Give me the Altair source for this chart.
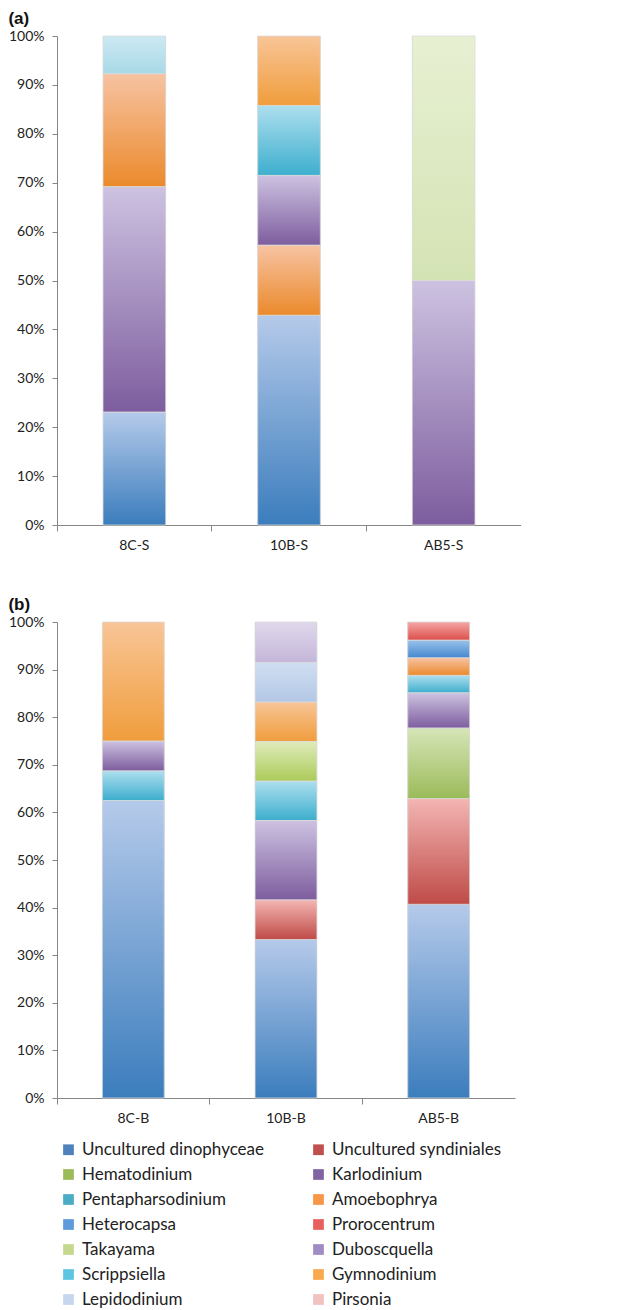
import altair as alt
import pandas as pd

# ---------------- data ----------------
SPECIES = ["Uncultured dinophyceae", "Uncultured syndiniales", "Hematodinium", "Karlodinium",
           "Pentapharsodinium", "Amoebophrya", "Heterocapsa", "Prorocentrum",
           "Takayama", "Duboscquella", "Scrippsiella", "Gymnodinium",
           "Lepidodinium", "Pirsonia"]

a_samples = ["8C-S", "10B-S", "AB5-S"]
a_sample = ["8C-S"] * 4 + ["10B-S"] * 5 + ["AB5-S"] * 2
a_species = ["Uncultured dinophyceae", "Karlodinium", "Amoebophrya", "Scrippsiella",
             "Uncultured dinophyceae", "Amoebophrya", "Karlodinium", "Pentapharsodinium", "Gymnodinium",
             "Karlodinium", "Takayama"]
a_value = [23.1, 46.1, 23.1, 7.7,
           42.9, 14.3, 14.3, 14.3, 14.2,
           50.0, 50.0]

b_samples = ["8C-B", "10B-B", "AB5-B"]
b_sample = ["8C-B"] * 4 + ["10B-B"] * 8 + ["AB5-B"] * 8
b_species = ["Uncultured dinophyceae", "Pentapharsodinium", "Karlodinium", "Gymnodinium",
             "Uncultured dinophyceae", "Uncultured syndiniales", "Karlodinium", "Pentapharsodinium",
             "Takayama", "Gymnodinium", "Lepidodinium", "Duboscquella",
             "Uncultured dinophyceae", "Uncultured syndiniales", "Hematodinium", "Karlodinium",
             "Pentapharsodinium", "Amoebophrya", "Heterocapsa", "Prorocentrum"]
b_value = [62.5, 6.25, 6.25, 25.0,
           33.3, 8.3, 16.7, 8.3, 8.3, 8.3, 8.3, 8.5,
           40.7, 22.2, 14.8, 7.4, 3.7, 3.7, 3.7, 3.8]

y_ticks = [0, 10, 20, 30, 40, 50, 60, 70, 80, 90, 100]

# ---------------- styles ----------------
LEGEND_COLORS = ["#4F81BD", "#C0504D", "#9BBB59", "#8064A2", "#4BACC6", "#F79646",
                 "#5E9BDB", "#E8605D", "#C4D98F", "#A18BC4", "#5CC5DF", "#F8A84D",
                 "#C6D6EE", "#F2C2C1"]

GRAD_B = {
    "Uncultured dinophyceae": ("#B5CAEA", "#3B7DBD"),
    "Uncultured syndiniales": ("#F3B5B3", "#BF4B47"),
    "Hematodinium": ("#D6E5B8", "#9BBB59"),
    "Karlodinium": ("#CDC2E1", "#7D5D9E"),
    "Pentapharsodinium": ("#ADDFEE", "#3DAECE"),
    "Amoebophrya": ("#F7C3A2", "#EB8A2C"),
    "Heterocapsa": ("#98C3EA", "#4787CF"),
    "Prorocentrum": ("#F4A6A4", "#DE4F4B"),
    "Takayama": ("#E0EBBB", "#ABCB5A"),
    "Duboscquella": ("#E0D8EC", "#C4B6D9"),
    "Scrippsiella": ("#CDE9F3", "#A8D9E7"),
    "Gymnodinium": ("#F8C597", "#F09D3C"),
    "Lepidodinium": ("#D0DEF1", "#B3C8E6"),
    "Pirsonia": ("#F6D0CF", "#EDB5B4"),
}
GRAD_A = dict(GRAD_B)
GRAD_A["Takayama"] = ("#E7F0D2", "#D4E3B4")

FONT = "Lato"
AXIS_COLOR = "#868686"


def gradient(top, bottom):
    return alt.Gradient(gradient="linear", x1=0, x2=0, y1=0, y2=1,
                        stops=[alt.GradientStop(color=top, offset=0),
                               alt.GradientStop(color=bottom, offset=1)])


def panel(samples, sample, species, value, grads, title, w, h):
    df = pd.DataFrame({"sample": sample, "species": species, "v": value})
    df["ord"] = range(len(df))
    base = alt.Chart(df).transform_stack(
        stack="v", groupby=["sample"], as_=["y0", "y1"],
        sort=[alt.SortField("ord", order="ascending")])
    x = alt.X("sample:N", sort=samples,
              scale=alt.Scale(paddingInner=0, paddingOuter=0),
              axis=alt.Axis(title=None, labelAngle=0, bandPosition=0, tickSize=6,
                            labelPadding=7, labelFontSize=14, labelFont=FONT,
                            labelColor="#222222", domainColor=AXIS_COLOR,
                            tickColor=AXIS_COLOR, grid=False))
    y = alt.Y("y0:Q", scale=alt.Scale(domain=[0, 100], nice=False),
              axis=alt.Axis(title=None, values=y_ticks, labelExpr="datum.value + '%'",
                            tickSize=5, labelPadding=8, labelFontSize=14, labelFont=FONT,
                            labelColor="#222222", domainColor=AXIS_COLOR,
                            tickColor=AXIS_COLOR, grid=False))
    y2 = alt.Y2("y1:Q")
    bw = {"band": 0.405}
    legend_layer = base.mark_bar(width=bw).encode(
        x=x, y=y, y2=y2,
        color=alt.Color("species:N",
                        scale=alt.Scale(domain=SPECIES, range=LEGEND_COLORS),
                        legend=alt.Legend(title=None, orient="none", legendX=3, legendY=1105,
                                          direction="horizontal",
                                          columns=2, symbolType="square", symbolSize=115,
                                          symbolStrokeWidth=0, labelFontSize=17,
                                          labelFont=FONT, labelColor="#222222",
                                          labelLimit=400, columnPadding=45, rowPadding=7,
                                          labelOffset=5, padding=0)))
    layers = [legend_layer]
    seen = []
    for s in species:
        if s in seen:
            continue
        seen.append(s)
        top, bottom = grads[s]
        layers.append(
            base.transform_filter(alt.datum.species == s)
            .mark_bar(width=bw, color=gradient(top, bottom), stroke="#dcdcdc", strokeWidth=0.8)
            .encode(x=x, y=y, y2=y2))
    return alt.layer(*layers).properties(
        width=w, height=h,
        title=alt.TitleParams(title, anchor="start", frame="bounds", fontSize=17,
                              fontWeight="bold", font="Liberation Sans", offset=1,
                              color="#111111"))


pa = panel(a_samples, a_sample, a_species, a_value, GRAD_A, "(a)", 464, 489)
pb = panel(b_samples, b_sample, b_species, b_value, GRAD_B, "(b)", 458, 476)

chart = alt.vconcat(pa, pb, spacing=44).properties(
    padding={"left": 0, "top": 2, "right": 0, "bottom": 0}).configure_view(stroke=None)

chart.save("out.html", embed_options={"renderer": "svg", "actions": False})
